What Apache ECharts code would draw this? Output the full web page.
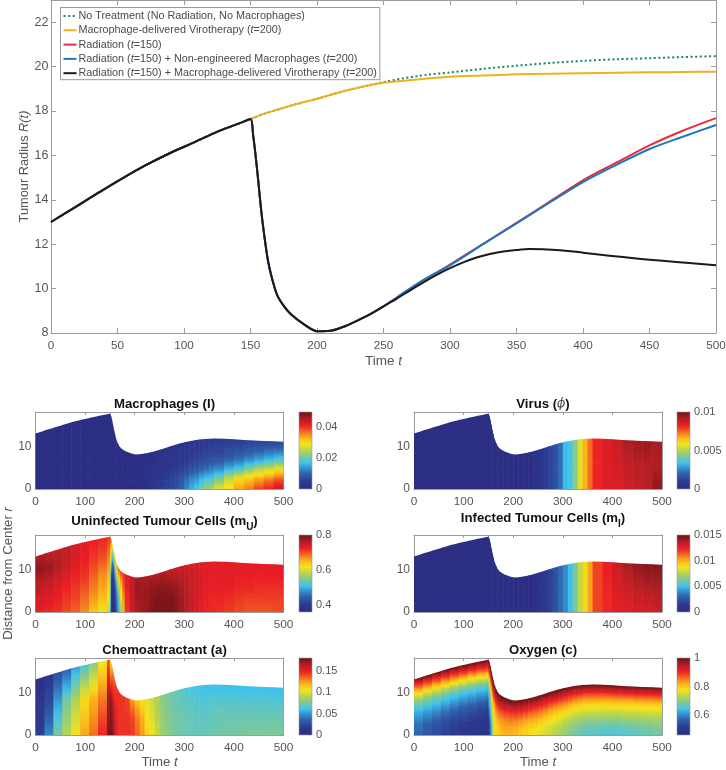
<!DOCTYPE html>
<html><head><meta charset="utf-8">
<style>html,body{margin:0;padding:0;background:#fff}#c{width:726px;height:770px}</style>
<script src="https://cdn.jsdelivr.net/npm/echarts@6/dist/echarts.min.js"></script>
</head><body><div id="c"></div>
<script>
// ---- line data ----
const preT=[0,18,36,54,72,90,108,126,144,150];
const preR=[13,13.66,14.33,14.98,15.58,16.12,16.6,17.09,17.5,17.64];
const blackT=[152,154,156,158,160,163,166,170,175,180,190,200,210,220,230,240,250,260,270,280,290,300,310,320,330,340,350,360,380,400,420,440,460,480,500];
const blackR=[16.9,15.9,14.75,13.54,12.55,11.3,10.5,9.72,9.22,8.87,8.4,8.08,8.1,8.28,8.55,8.85,9.2,9.55,9.92,10.28,10.62,10.92,11.18,11.4,11.56,11.67,11.74,11.78,11.74,11.62,11.48,11.36,11.25,11.15,11.05];
const greenT=[160,172,185,200,222,250,275,300,325,350,375,400,425,450,475,500];
const greenR=[17.87,18.09,18.32,18.55,18.92,19.3,19.57,19.74,19.9,20.04,20.16,20.26,20.33,20.38,20.43,20.47];
const yellowT=[160,172,185,200,222,250,275,300,325,350,375,400,425,450,475,500];
const yellowR=[17.87,18.09,18.32,18.55,18.92,19.27,19.42,19.54,19.6,19.65,19.68,19.7,19.72,19.74,19.76,19.77];
const redT=[152,154,156,158,160,163,166,170,175,180,190,200,210,220,230,240,250,260,270,280,290,300,325,350,375,400,425,450,475,500];
const redR=[16.9,15.9,14.75,13.54,12.55,11.3,10.5,9.72,9.22,8.87,8.4,8.08,8.1,8.28,8.55,8.85,9.2,9.6,10.0,10.38,10.72,11.08,12.02,12.96,13.92,14.88,15.67,16.45,17.11,17.68];
const blueT=[152,154,156,158,160,163,166,170,175,180,190,200,210,220,230,240,250,260,270,280,290,300,325,350,375,400,425,450,475,500];
const blueR=[16.9,15.9,14.75,13.54,12.55,11.3,10.5,9.72,9.22,8.87,8.4,8.08,8.1,8.28,8.55,8.85,9.2,9.6,10.0,10.38,10.72,11.05,12.0,12.94,13.88,14.8,15.57,16.29,16.84,17.37];
const names=['No Treatment (No Radiation, No Macrophages)','Macrophage-delivered Virotherapy (t=200)','Radiation (t=150)','Radiation (t=150) + Non-engineered Macrophages (t=200)','Radiation (t=150) + Macrophage-delivered Virotherapy (t=200)'];
const lineColors=['#12885c','#edb120','#ee2a32','#1a78c2','#1a1a1a'];
const xTicksTop=[0,50,100,150,200,250,300,350,400,450,500];
const yTicksTop=[8,10,12,14,16,18,20,22];
const xTicksHeat=[0,100,200,300,400,500];
const yTicksHeat=[0,10];
// ---- field grids: time edges, and values per cell ----
const cellT=[0,18,36,54,72,90,108,126,144,150,152,154,156,158,160,163,166,170,175,180,190,200,210,220,230,240,250,260,270,280,290,300,310,320,330,340,350,360,380,400,420,440,460,480,500];
const macRho=[0,.2,.4,.6,.8,1];
const macRows=[
[0,0,0,0,0,0,0,0,0,0,0,0,0,0,0,0,0,0,0,0,0,.0005,.001,.002,.003,.004,.005,.006,.007,.008,.010,.013,.016,.018,.021,.023,.025,.028,.030,.034,.036,.039,.041,.044],
[0,0,0,0,0,0,0,0,0,0,0,0,0,0,0,0,0,0,0,0,0,.0005,.001,.002,.003,.004,.0045,.0055,.0065,.0075,.009,.011,.013,.014,.016,.0175,.018,.021,.026,.030,.032,.034,.036,.038],
[0,0,0,0,0,0,0,0,0,0,0,0,0,0,0,0,0,0,0,0,0,.0004,.001,.0015,.002,.003,.0035,.004,.005,.0055,.006,.007,.008,.009,.010,.011,.012,.013,.016,.018,.022,.025,.027,.030],
[0,0,0,0,0,0,0,0,0,0,0,0,0,0,0,0,0,0,0,0,0,.0003,.0007,.001,.0015,.002,.0025,.003,.0035,.004,.0045,.005,.0055,.006,.0065,.007,.0075,.008,.0095,.011,.013,.015,.017,.019],
[0,0,0,0,0,0,0,0,0,0,0,0,0,0,0,0,0,0,0,0,0,.0002,.0005,.001,.001,.0015,.002,.0025,.003,.003,.0035,.0035,.004,.0045,.005,.005,.0055,.006,.007,.0075,.0085,.0095,.0105,.0115],
[0,0,0,0,0,0,0,0,0,0,0,0,0,0,0,0,0,0,0,0,0,.0002,.0004,.0007,.001,.001,.0015,.002,.002,.0025,.0025,.003,.003,.0035,.0035,.004,.004,.0045,.005,.005,.0055,.006,.006,.0065]];
const virRho=[0,.5,1];
const virRows=[
[0,0,0,0,0,0,0,0,0,0,0,0,0,0,0,0,0,0,0,0,0,0,0,0,0,.0003,.0006,.001,.0013,.0016,.0022,.0033,.0035,.0044,.0056,.0066,.0074,.0082,.0085,.0085,.0087,.0088,.009,.0095],
[0,0,0,0,0,0,0,0,0,0,0,0,0,0,0,0,0,0,0,0,0,0,0,0,0,.0003,.0006,.001,.0013,.0016,.0022,.0033,.0035,.0044,.0056,.0066,.0074,.0082,.0085,.0086,.0088,.009,.009,.0091],
[0,0,0,0,0,0,0,0,0,0,0,0,0,0,0,0,0,0,0,0,0,0,0,0,0,.0003,.0006,.001,.0013,.0016,.0022,.0033,.0035,.0044,.0056,.0066,.0074,.0082,.0085,.0088,.0092,.0093,.0094,.0092]];
const muRho=[0,.25,.5,.75,1];
const muRows=[
[.725,.72,.715,.70,.69,.67,.64,.62,.59,.50,.40,.37,.37,.38,.40,.46,.50,.57,.65,.71,.745,.76,.77,.775,.785,.79,.79,.79,.79,.785,.77,.755,.745,.735,.73,.72,.72,.715,.71,.70,.695,.695,.695,.70],
[.74,.735,.725,.715,.705,.69,.67,.65,.62,.55,.40,.37,.38,.39,.42,.47,.52,.59,.66,.72,.75,.765,.77,.775,.785,.79,.79,.79,.79,.78,.77,.76,.75,.74,.73,.725,.72,.72,.715,.71,.705,.705,.705,.705],
[.755,.75,.74,.73,.72,.71,.69,.67,.65,.55,.42,.39,.40,.41,.45,.50,.56,.62,.68,.72,.75,.77,.77,.775,.78,.785,.785,.785,.78,.775,.765,.755,.745,.74,.735,.73,.725,.725,.725,.72,.72,.715,.715,.715],
[.78,.775,.76,.745,.735,.725,.71,.70,.68,.62,.55,.46,.45,.48,.52,.57,.62,.66,.70,.73,.755,.775,.77,.77,.775,.775,.775,.77,.765,.76,.755,.75,.745,.74,.735,.73,.73,.73,.73,.725,.725,.725,.725,.725],
[.76,.75,.75,.75,.74,.73,.725,.72,.71,.70,.66,.62,.60,.62,.65,.67,.69,.70,.71,.73,.75,.76,.76,.76,.76,.76,.76,.755,.75,.75,.745,.74,.74,.735,.735,.735,.73,.73,.73,.73,.73,.73,.73,.73]];
const miRho=[0,.5,1];
const miRows=[
[0,0,0,0,0,0,0,0,0,0,0,0,0,0,0,0,0,0,0,0,0,0,0,0,0,.0003,.0008,.0012,.0018,.0024,.0032,.0039,.005,.0063,.0078,.009,.0102,.0117,.0122,.0125,.0126,.0128,.0128,.013],
[0,0,0,0,0,0,0,0,0,0,0,0,0,0,0,0,0,0,0,0,0,0,0,0,0,.0003,.0008,.0012,.0018,.0024,.0032,.0039,.005,.0063,.0078,.009,.0102,.0117,.0123,.0128,.0131,.0134,.0136,.0137],
[0,0,0,0,0,0,0,0,0,0,0,0,0,0,0,0,0,0,0,0,0,0,0,0,0,.0003,.0008,.0012,.0018,.0024,.0032,.0039,.005,.0063,.0078,.009,.0102,.0117,.0125,.0132,.0138,.0143,.0145,.0145]];
const chRho=[0,.5,1];
const chRows=[
[.02,.047,.075,.09,.104,.122,.133,.148,.175,.178,.178,.175,.17,.165,.155,.15,.145,.145,.145,.145,.143,.135,.125,.11,.105,.095,.085,.08,.077,.075,.073,.072,.071,.07,.07,.071,.072,.073,.074,.075,.076,.076,.076,.076],
[.014,.027,.054,.076,.09,.108,.119,.13,.166,.17,.17,.165,.16,.155,.15,.148,.145,.145,.145,.145,.14,.13,.12,.105,.1,.09,.083,.078,.075,.073,.072,.07,.07,.068,.068,.068,.069,.07,.07,.07,.07,.07,.07,.07],
[.004,.014,.027,.036,.054,.065,.079,.104,.135,.1,.115,.125,.13,.135,.14,.145,.145,.145,.145,.14,.125,.115,.105,.1,.095,.088,.08,.075,.072,.07,.067,.065,.064,.062,.061,.06,.06,.06,.06,.06,.06,.06,.06,.06]];
const oxRho=[0,.2,.4,.6,.7,.8,.9,1];
const oxRows=[
[.57,.55,.535,.52,.51,.50,.49,.48,.47,.50,.55,.60,.66,.72,.76,.78,.79,.80,.81,.815,.815,.81,.80,.79,.78,.77,.76,.75,.74,.73,.72,.705,.69,.68,.67,.665,.66,.66,.655,.655,.66,.665,.67,.68],
[.585,.57,.555,.54,.53,.52,.51,.50,.49,.52,.58,.62,.68,.73,.77,.79,.80,.81,.82,.825,.825,.82,.81,.80,.79,.785,.775,.765,.755,.745,.735,.72,.71,.70,.69,.685,.68,.68,.675,.675,.68,.685,.69,.695],
[.63,.62,.61,.595,.58,.57,.56,.55,.54,.60,.64,.68,.72,.76,.79,.81,.825,.835,.84,.845,.85,.845,.84,.83,.825,.82,.81,.80,.79,.78,.77,.76,.75,.74,.735,.73,.73,.73,.725,.725,.73,.73,.735,.735],
[.70,.69,.68,.67,.66,.65,.645,.64,.635,.67,.70,.73,.77,.80,.83,.85,.865,.875,.88,.885,.885,.885,.88,.875,.87,.865,.86,.85,.84,.83,.825,.82,.81,.80,.795,.79,.79,.79,.785,.785,.785,.785,.785,.785],
[.76,.75,.74,.73,.72,.71,.705,.70,.695,.73,.76,.79,.82,.85,.87,.885,.90,.905,.91,.915,.915,.915,.91,.905,.90,.895,.89,.885,.875,.87,.865,.86,.85,.84,.835,.83,.83,.83,.825,.825,.825,.825,.825,.825],
[.83,.825,.82,.815,.81,.805,.80,.80,.795,.82,.84,.86,.88,.90,.915,.925,.935,.94,.945,.945,.945,.945,.94,.935,.93,.93,.925,.92,.915,.91,.905,.90,.89,.885,.88,.875,.875,.875,.875,.875,.875,.875,.875,.875],
[.90,.90,.90,.90,.90,.90,.90,.90,.90,.92,.93,.94,.95,.96,.965,.97,.975,.975,.98,.98,.98,.98,.975,.975,.97,.97,.965,.965,.96,.96,.955,.95,.945,.94,.94,.935,.935,.935,.935,.935,.935,.935,.935,.935],
[1,1,1,1,1,1,1,1,1,1,1,1,1,1,1,1,1,1,1,1,1,1,1,1,1,1,1,1,1,1,1,1,1,1,1,1,1,1,1,1,1,1,1,1]];
const titles=['{a|Macrophages (I)}','{a|Virus (}{p|\u03d5}{a|)}','{a|Uninfected Tumour Cells (m}{s|U}{a|)}','{a|Infected Tumour Cells (m}{s|I}{a|)}','{a|Chemoattractant (a)}','{a|Oxygen (c)}'];
const ranges=[[0,.05],[0,.01],[.358,.8],[0,.015],[0,.18],[.46,1]];
const barTicks=[[0,.02,.04],[0,.005,.01],[.4,.6,.8],[0,.005,.01,.015],[0,.05,.1,.15],[.6,.8,1]];
const cmapOffsets=[0,.1,.2,.28,.34,.42,.5,.58,.64,.7,.78,.83,.9,1];
const cmapColors=['#2b2e83','#2c3a92','#3060ac','#3596d2','#40c4ee','#7cc89a','#b4d452','#f4e41c','#fcc41a','#f7941d','#ef4423','#ea1d25','#b81f24','#6b1216'];

// ---- layout and styling ----
const FONT='"Liberation Sans",Arial,sans-serif', AX='#9c9c9c', TXT='#555';
function rgb(h){return [1,3,5].map(i=>parseInt(h.substr(i,2),16));}
function cmap(f){f=Math.max(0,Math.min(1,f));let i=0;while(i<cmapOffsets.length-2&&f>cmapOffsets[i+1])i++;
  const k=(f-cmapOffsets[i])/(cmapOffsets[i+1]-cmapOffsets[i]),a=rgb(cmapColors[i]),b=rgb(cmapColors[i+1]);
  return 'rgb('+a.map((v,j)=>Math.round(v+(b[j]-v)*k)).join(',')+')';}
const Rall=preR.concat(blackR);
function zipLine(t,r){return preT.map((x,i)=>[x,preR[i]]).concat(t.map((x,i)=>[x,r[i]]));}
const rich={i:{fontStyle:'italic',fontFamily:FONT,fontSize:10.8,color:'#4a4a4a'}};
const grids=[],xA=[],yA=[],series=[],title=[];
function addAxes(g,xr,yr,xt,yt,opts){
  const base={axisLine:{show:true,onZero:false,lineStyle:{color:AX,width:1}},splitLine:{show:false},silent:true};
  const nameStyle=fs=>({color:TXT,fontFamily:FONT,fontSize:fs,rich:{i:{fontStyle:'italic',color:TXT,fontFamily:FONT,fontSize:fs}}});
  xA.push({...base,gridIndex:g,type:'value',position:'bottom',min:xr[0],max:xr[1],
    axisTick:{show:true,inside:true,length:opts.tick,customValues:xt,lineStyle:{color:AX}},
    axisLabel:{show:true,customValues:xt,color:TXT,fontFamily:FONT,fontSize:opts.xfs,margin:opts.xm},
    name:opts.xName||'',nameLocation:'middle',nameGap:opts.xGap||21,nameMoveOverlap:false,nameTextStyle:nameStyle(opts.xNameFs||13.2)});
  yA.push({...base,gridIndex:g,type:'value',position:'left',min:yr[0],max:yr[1],
    axisTick:{show:true,inside:true,length:opts.tick,customValues:yt,lineStyle:{color:AX}},
    axisLabel:{show:true,customValues:yt,color:TXT,fontFamily:FONT,fontSize:opts.yfs,margin:opts.ym},
    name:opts.yName||'',nameLocation:'middle',nameGap:opts.yGap||20,nameMoveOverlap:false,nameTextStyle:nameStyle(opts.yNameFs||13.2)});
  xA.push({...base,gridIndex:g,type:'value',position:'top',min:xr[0],max:xr[1],
    axisTick:{show:true,inside:true,length:opts.tick,customValues:xt,lineStyle:{color:AX}},axisLabel:{show:false}});
  yA.push({...base,gridIndex:g,type:'value',position:'right',min:yr[0],max:yr[1],
    axisTick:{show:true,inside:true,length:opts.tick,customValues:yt,lineStyle:{color:AX}},axisLabel:{show:false}});
  return [xA.length-2,yA.length-2];
}
// main plot
grids.push({left:51,top:0,width:665,height:333,outerBoundsMode:'none'});
const mainAx=addAxes(0,[0,500],[8,23],xTicksTop,yTicksTop,{xName:'Time {i|t}',xGap:21,yName:'Tumour Radius {i|R(t)}',yGap:20,xm:7,ym:2.5,xfs:11.7,yfs:12.5,xNameFs:13.5,yNameFs:12.8,tick:5});
const lineData=[zipLine(greenT,greenR),zipLine(yellowT,yellowR),zipLine(redT,redR),zipLine(blueT,blueR),zipLine(blackT,blackR)];
names.forEach((n,i)=>series.push({type:'line',name:n,xAxisIndex:mainAx[0],yAxisIndex:mainAx[1],data:lineData[i],showSymbol:false,symbol:'none',smooth:0.3,
  lineStyle:{color:lineColors[i],width:2,type:i===0?[2,2.6]:'solid',cap:'butt',join:'round'},itemStyle:{color:lineColors[i]},z:5+i,animation:false}));

// heat panels
const panelRho=[macRho,virRho,muRho,miRho,chRho,oxRho];
const panelRows=[macRows,virRows,muRows,miRows,chRows,oxRows];
const colX=[35.5,414], barX=[299,677], rowY=[412,535,658];
const titleY=[401.5,401.5,519,516,647.5,647.5];
function renderCell(lo,hi){return function(p,api){
  const tL=api.value(0),tR=api.value(2),RL=api.value(3),RR=api.value(4),a=api.value(5),b=api.value(6),vB=api.value(7),vT=api.value(8);
  const pts=[api.coord([tL,a*RL]),api.coord([tR,a*RR]),api.coord([tR,b*RR]),api.coord([tL,b*RL])];
  const yB=(pts[0][1]+pts[1][1])/2,yT=(pts[2][1]+pts[3][1])/2;
  const stops=[0,.25,.5,.75,1].map(k=>({offset:k,color:cmap((vB+(vT-vB)*k-lo)/(hi-lo))}));
  const g=new echarts.graphic.LinearGradient(0,yB,0,yT,stops,true);
  // a hair of overlap hides anti-aliasing seams between neighbouring cells
  const ox=tR<500?.6:0, oy=b<1?.6:0;
  pts[1]=[pts[1][0]+ox,pts[1][1]];pts[2]=[pts[2][0]+ox,pts[2][1]-oy];pts[3]=[pts[3][0],pts[3][1]-oy];
  return {type:'polygon',shape:{points:pts},style:{fill:g}};
};}
function renderBar(lo,hi){return function(p,api){
  const a=api.coord([0,lo]),b=api.coord([1,hi]);
  const stops=cmapOffsets.map((o,i)=>({offset:o,color:cmapColors[i]}));
  return {type:'rect',shape:{x:a[0],y:b[1],width:b[0]-a[0],height:a[1]-b[1]},
    style:{fill:new echarts.graphic.LinearGradient(0,1,0,0,stops),stroke:'#999',lineWidth:.6}};
};}
for(let k=0;k<6;k++){
  const c=k%2,r=Math.floor(k/2),[lo,hi]=ranges[k],rho=panelRho[k],rows=panelRows[k];
  const g=grids.length;
  grids.push({left:colX[c],top:rowY[r],width:248,height:77,outerBoundsMode:'none'});
  const opt={tick:3,xm:6.5,ym:4,xfs:11.8,yfs:12};
  if(r===2){opt.xName='Time {i|t}';opt.xGap=21;}
  if(k===2){opt.yName='Distance from Center {i|r}';opt.yGap=20.5;}
  const ax=addAxes(g,[0,500],[0,18],xTicksHeat,yTicksHeat,opt);
  const cells=[];
  for(let i=0;i<cellT.length-1;i++)for(let j=0;j<rho.length-1;j++)
    cells.push([cellT[i],rho[j]*Rall[i],cellT[i+1],Rall[i],Rall[i+1],rho[j],rho[j+1],rows[j][i],rows[j+1][i]]);
  series.push({type:'custom',xAxisIndex:ax[0],yAxisIndex:ax[1],data:cells,renderItem:renderCell(lo,hi),clip:true,silent:true,animation:false,z:2,encode:{x:0,y:1},progressive:0});
  // colorbar
  const gb=grids.length;
  grids.push({left:barX[c],top:rowY[r],width:13,height:77,outerBoundsMode:'none'});
  xA.push({gridIndex:gb,type:'value',min:0,max:1,show:false});
  yA.push({gridIndex:gb,type:'value',position:'right',min:lo,max:hi,axisLine:{show:false},axisTick:{show:false},splitLine:{show:false},
    axisLabel:{show:true,customValues:barTicks[k],color:TXT,fontFamily:FONT,fontSize:11,margin:4}});
  series.push({type:'custom',xAxisIndex:xA.length-1,yAxisIndex:yA.length-1,data:[[0,lo]],encode:{x:0,y:1},renderItem:renderBar(lo,hi),clip:false,silent:true,animation:false,z:3});
  title.push({text:titles[k],left:colX[c]+124,top:titleY[k]-9,textAlign:'center',
    textStyle:{rich:{a:{fontFamily:FONT,fontWeight:'bold',fontSize:13.2,color:'#111',verticalAlign:'top',lineHeight:16},
      s:{fontFamily:FONT,fontWeight:'bold',fontSize:10,color:'#111',padding:[7,0,0,0],verticalAlign:'top',lineHeight:16},
      p:{fontFamily:'"DejaVu Serif",serif',fontStyle:'italic',fontWeight:'normal',fontSize:12,color:'#444',verticalAlign:'top',lineHeight:16}}}});
}
const chart=echarts.init(document.getElementById('c'),null,{renderer:'canvas'});
chart.setOption({animation:false,backgroundColor:'#fff',textStyle:{fontFamily:FONT},title,grid:grids,xAxis:xA,yAxis:yA,series,
  legend:{orient:'vertical',left:60.5,top:7.5,padding:[3,3,1,2],itemGap:3.3,itemWidth:13,itemHeight:12.5,backgroundColor:'#fff',borderColor:'#999',borderWidth:1,
    data:names,z:20,selectedMode:false,itemStyle:{opacity:0},
    formatter:n=>n.replace(/t=/g,'{i|t}='),
    textStyle:{color:'#4a4a4a',fontFamily:FONT,fontSize:10.8,padding:[0,0,0,-3],rich}}});
</script></body></html>
